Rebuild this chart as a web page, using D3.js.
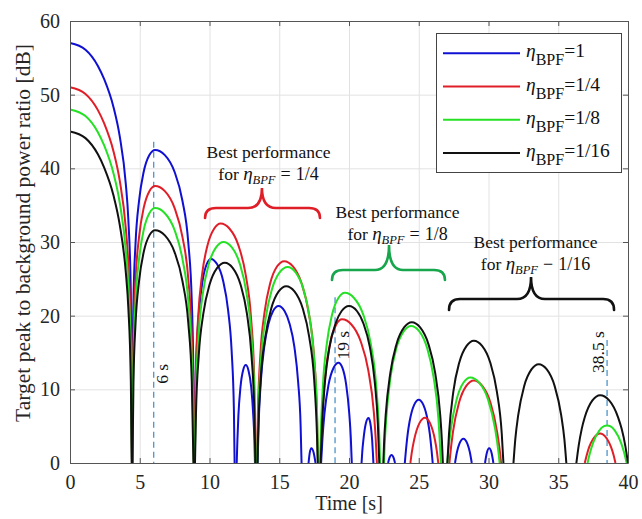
<!DOCTYPE html>
<html>
<head>
<meta charset="utf-8">
<script src="https://cdn.jsdelivr.net/npm/d3@7"></script>
<style>
  body { margin: 0; background: #fff; }
  svg { display: block; }
</style>
</head>
<body>
<svg id="chart" width="642" height="519"></svg>
<script>
// Axis ticks
const xTicks = [0, 5, 10, 15, 20, 25, 30, 35, 40];
const yTicks = [0, 10, 20, 30, 40, 50, 60];

// Legend entries (filter ratio eta_BPF)
const seriesLabels = ["1", "1/4", "1/8", "1/16"];

// Peak-to-background ratio [dB] vs time [s]; each inner array is one visible lobe
const lobesEta1 = [
  [[0,57],[1.11,56.1],[2.0,53.9],[2.45,52.1],[3.12,48.3],[3.56,44.4],[4.0,37.9],[4.18,33.1],[4.36,23.2],[4.44,0]],
  [[4.46,0],[4.48,12.4],[4.55,22.0],[4.70,29.9],[4.95,35.6],[5.28,39.5],[5.69,41.8],[6.1,42.5],[6.8,41.8],[7.5,39.5],[8.06,35.6],[8.48,29.9],[8.73,22.0],[8.84,12.4],[8.89,0]],
  [[8.93,0],[8.97,7.2],[9.08,15.1],[9.26,20.8],[9.5,24.7],[9.8,27.0],[10.1,27.7],[10.54,27.0],[10.98,24.7],[11.33,20.8],[11.59,15.1],[11.75,7.2],[11.80,0]],
  [[11.95,0],[12.0,3.1],[12.07,6.4],[12.22,10.3],[12.41,12.6],[12.6,13.3],[12.79,12.6],[12.99,10.3],[13.14,6.4],[13.22,3.1],[13.26,0]],
  [[13.45,0],[13.52,5.2],[13.68,11.1],[13.92,15.7],[14.23,18.9],[14.55,20.6],[14.95,21.3],[15.39,20.6],[15.74,18.9],[16.09,15.7],[16.35,11.1],[16.53,5.2],[16.6,0]],
  [[17.1,0],[17.18,1.3],[17.3,2.0],[17.48,1.3],[17.6,0]],
  [[18.0,0],[18.10,3.4],[18.24,6.7],[18.53,10.6],[18.89,12.9],[19.25,13.6],[19.53,12.9],[19.8,10.6],[20.02,6.7],[20.13,3.4],[20.2,0]],
  [[20.9,0],[20.95,1.5],[21.03,3.1],[21.21,5.4],[21.4,6.1],[21.53,5.4],[21.66,3.1],[21.71,1.5],[21.75,0]],
  [[22.8,0],[22.9,0.7],[23.05,1.1],[23.2,0.7],[23.3,0]],
  [[24.0,0],[24.08,1.7],[24.21,4.0],[24.34,5.6],[24.67,7.9],[25.0,8.6],[25.33,7.9],[25.66,5.6],[25.79,4.0],[25.92,1.7],[26.0,0]],
  [[27.6,0],[27.74,1.5],[27.91,2.6],[28.2,3.3],[28.49,2.6],[28.66,1.5],[28.8,0]],
  [[29.75,0],[29.87,1.3],[30.05,2.0],[30.23,1.3],[30.35,0]]
];
const lobesEta4 = [
  [[0,51],[1.11,50.1],[2.0,47.9],[2.45,46.1],[3.12,42.3],[3.56,38.4],[4.0,31.9],[4.18,27.1],[4.36,17.2],[4.44,0]],
  [[4.46,0],[4.48,7.5],[4.55,17.1],[4.70,25.0],[4.95,30.7],[5.28,34.6],[5.69,36.9],[6.1,37.6],[6.8,36.9],[7.5,34.6],[8.06,30.7],[8.48,25.0],[8.73,17.1],[8.84,7.5],[8.88,0]],
  [[8.92,0],[9.01,12.0],[9.19,19.9],[9.47,25.6],[9.85,29.5],[10.33,31.8],[10.8,32.5],[11.44,31.8],[12.08,29.5],[12.59,25.6],[12.97,19.9],[13.20,12.0],[13.31,0]],
  [[13.40,0],[13.47,6.9],[13.65,14.8],[13.95,20.5],[14.35,24.4],[14.85,26.7],[15.35,27.4],[15.98,26.7],[16.6,24.4],[17.1,20.5],[17.48,14.8],[17.70,6.9],[17.78,0]],
  [[17.95,0],[18.01,3.4],[18.09,6.9],[18.34,12.6],[18.67,16.5],[19.09,18.8],[19.5,19.5],[20.17,18.8],[20.84,16.5],[21.38,12.6],[21.78,6.9],[21.91,3.4],[22.0,0]],
  [[24.4,0],[24.51,1.55],[24.67,3.15],[25.06,5.45],[25.45,6.15],[25.80,5.45],[26.16,3.15],[26.30,1.55],[26.4,0]],
  [[27.2,0],[27.25,1.0],[27.46,4.3],[27.89,8.2],[28.42,10.5],[28.95,11.2],[29.54,10.5],[30.14,8.2],[30.61,4.3],[30.85,1.0],[30.9,0]],
  [[36.9,0],[37.03,1.0],[37.22,2.2],[37.51,3.3],[37.8,3.9],[38.0,4.0],[38.2,3.9],[38.49,3.3],[38.78,2.2],[38.98,1.0],[39.1,0]]
];
const lobesEta8 = [
  [[0,48],[1.11,47.1],[2.0,44.9],[2.45,43.1],[3.12,39.3],[3.56,35.4],[4.0,28.9],[4.18,24.1],[4.36,14.2],[4.44,0]],
  [[4.47,0],[4.48,4.5],[4.55,14.1],[4.70,22.0],[4.95,27.7],[5.28,31.6],[5.69,33.9],[6.1,34.6],[6.8,33.9],[7.5,31.6],[8.06,27.7],[8.48,22.0],[8.73,14.1],[8.84,4.5],[8.87,0]],
  [[8.94,0],[9.03,9.5],[9.22,17.4],[9.53,23.1],[9.95,27.0],[10.48,29.3],[11.0,30.0],[11.59,29.3],[12.18,27.0],[12.65,23.1],[13.0,17.4],[13.21,9.5],[13.30,0]],
  [[13.42,0],[13.49,6.1],[13.69,14.0],[14.03,19.7],[14.48,23.6],[15.04,25.9],[15.6,26.6],[16.16,25.9],[16.73,23.6],[17.18,19.7],[17.51,14.0],[17.72,6.1],[17.78,0]],
  [[17.93,0],[17.96,2.6],[18.13,10.5],[18.41,16.2],[18.78,20.1],[19.24,22.4],[19.7,23.1],[20.36,22.4],[21.03,20.1],[21.56,16.2],[21.95,10.5],[22.19,2.6],[22.23,0]],
  [[22.51,0],[22.56,2.5],[22.67,6.0],[22.98,11.7],[23.4,15.6],[23.93,17.9],[24.45,18.6],[25.03,17.9],[25.6,15.6],[26.06,11.7],[26.41,6.0],[26.52,2.5],[26.58,0]],
  [[27.05,0],[27.11,1.4],[27.31,4.7],[27.71,8.6],[28.2,10.9],[28.7,11.6],[29.33,10.9],[29.97,8.6],[30.47,4.7],[30.72,1.4],[30.8,0]],
  [[37.1,0],[37.27,1.35],[37.49,2.7],[37.94,4.4],[38.28,5.0],[38.5,5.1],[38.72,5.0],[39.06,4.4],[39.51,2.7],[39.73,1.35],[39.9,0]]
];
const lobesEta16 = [
  [[0,45],[1.11,44.1],[2.0,41.9],[2.45,40.1],[3.12,36.3],[3.56,32.4],[4.0,25.9],[4.18,21.1],[4.36,11.2],[4.43,0]],
  [[4.48,0],[4.55,11.1],[4.70,19.0],[4.95,24.7],[5.28,28.6],[5.69,30.9],[6.1,31.6],[6.8,30.9],[7.5,28.6],[8.06,24.7],[8.48,19.0],[8.73,11.1],[8.85,0]],
  [[8.96,0],[9.03,6.7],[9.23,14.6],[9.56,20.3],[10.0,24.2],[10.55,26.5],[11.1,27.2],[11.66,26.5],[12.23,24.2],[12.68,20.3],[13.01,14.6],[13.22,6.7],[13.29,0]],
  [[13.44,0],[13.48,3.5],[13.67,11.4],[14.0,17.1],[14.43,21.0],[14.96,23.3],[15.5,24.0],[16.09,23.3],[16.68,21.0],[17.15,17.1],[17.50,11.4],[17.71,3.5],[17.76,0]],
  [[17.97,0],[18.07,5.2],[18.28,11.1],[18.60,15.7],[19.03,18.9],[19.46,20.6],[20.0,21.3],[20.58,20.6],[21.04,18.9],[21.5,15.7],[21.84,11.1],[22.07,5.2],[22.17,0]],
  [[22.46,0],[22.52,3.0],[22.63,6.5],[22.96,12.2],[23.4,16.1],[23.95,18.4],[24.5,19.1],[25.1,18.4],[25.7,16.1],[26.18,12.2],[26.54,6.5],[26.66,3.0],[26.73,0]],
  [[27.05,0],[27.17,4.0],[27.48,9.7],[27.9,13.6],[28.43,15.9],[28.95,16.6],[29.54,15.9],[30.13,13.6],[30.6,9.7],[30.95,4.0],[31.07,0]],
  [[31.79,0],[31.92,3.2],[32.13,6.5],[32.55,10.4],[33.08,12.7],[33.6,13.4],[34.18,12.7],[34.75,10.4],[35.21,6.5],[35.44,3.2],[35.58,0]],
  [[36.3,0],[36.46,2.3],[36.68,4.6],[36.9,6.2],[37.45,8.5],[38.0,9.2],[38.65,8.5],[39.29,6.2],[39.55,4.6],[39.81,2.3],[40.0,0]]
];

// Vertical time markers: time [s], top of the dashed line [dB], label
const markerTimes = [6, 19, 38.5];
const markerTops = [43.6, 22.5, 16.7];
const markerLabels = ["6 s", "19 s", "38.5 s"];

// "Best performance" callouts: which filter ratio, braces [left, right, tip] in s,
// brace levels [end, bar, tip] in dB, text anchor [s, dB]
const calloutRatios = ["1/4", "1/8", "1/16"];
const calloutRelations = ["=", "=", "\u2212"];
const braceSpans = [[9.68, 17.92, 13.76], [18.78, 26.88, 22.87], [27.17, 39.0, 33.05]];
const braceLevels = [[33.26, 34.61, 37.33], [24.84, 26.2, 29.59], [20.77, 22.26, 25.25]];
const calloutAnchors = [[14.23, 41.4], [23.48, 33.26], [33.37, 29.18]];

// ---- drawing ----
const svg = d3.select("#chart");
const X0 = 70, X1 = 628, Y0 = 463, Y1 = 21;
const x = d3.scaleLinear().domain([0, 40]).range([X0, X1]);
const y = d3.scaleLinear().domain([0, 60]).range([Y0, Y1]);
const serif = "'Liberation Serif', 'Times New Roman', serif";

const lineColors = ["#1010d2", "#e01e28", "#25e025", "#111111"];
const braceColors = ["#e01e28", "#17a64c", "#111111"];
const axisColor = "#555555";

svg.append("rect").attr("x", X0).attr("y", Y1).attr("width", X1 - X0).attr("height", Y0 - Y1).attr("fill", "#fff");

// grid
const grid = svg.append("g").attr("stroke", "#e2e2e2").attr("stroke-width", 1);
grid.selectAll("line.gx").data(xTicks.slice(1, -1)).join("line")
  .attr("x1", d => x(d) + 0.5).attr("x2", d => x(d) + 0.5).attr("y1", Y1).attr("y2", Y0);
grid.selectAll("line.gy").data(yTicks.slice(1, -1)).join("line")
  .attr("y1", d => y(d) + 0.5).attr("y2", d => y(d) + 0.5).attr("x1", X0).attr("x2", X1);

// clip region
svg.append("clipPath").attr("id", "plotArea").append("rect")
  .attr("x", X0).attr("y", Y1 - 1).attr("width", X1 - X0).attr("height", Y0 - Y1 + 1);

// dashed markers
const markers = svg.append("g");
markerTimes.forEach((t, i) => {
  markers.append("line")
    .attr("x1", x(t)).attr("x2", x(t)).attr("y1", y(markerTops[i])).attr("y2", y(0))
    .attr("stroke", "#4d94cc").attr("stroke-width", 1.3).attr("stroke-dasharray", "6,4");
});

// curves
const line = d3.line().x(d => x(d[0])).y(d => y(d[1])).curve(d3.curveMonotoneX);
const curves = svg.append("g").attr("clip-path", "url(#plotArea)");
[lobesEta1, lobesEta4, lobesEta8, lobesEta16].forEach((lobes, i) => {
  curves.selectAll(null).data(lobes).join("path")
    .attr("d", line).attr("fill", "none")
    .attr("stroke", lineColors[i]).attr("stroke-width", 2)
    .attr("stroke-linejoin", "round");
});

// axes (box with inward ticks)
function styleAxis(g) {
  g.select(".domain").attr("stroke", axisColor).attr("stroke-width", 1);
  g.selectAll(".tick line").attr("stroke", axisColor);
  g.selectAll(".tick text").attr("fill", "#262626").attr("font-family", serif).attr("font-size", 20);
  g.attr("font-family", null).attr("font-size", null);
}
svg.append("g").attr("transform", `translate(0,${Y0})`)
  .call(d3.axisBottom(x).tickValues(xTicks).tickSizeInner(-5).tickSizeOuter(0).tickPadding(12).tickFormat(d3.format("d")))
  .call(styleAxis);
svg.append("g").attr("transform", `translate(0,${Y1})`)
  .call(d3.axisTop(x).tickValues(xTicks).tickSizeInner(-5).tickSizeOuter(0).tickFormat(""))
  .call(styleAxis);
svg.append("g").attr("transform", `translate(${X0},0)`)
  .call(d3.axisLeft(y).tickValues(yTicks).tickSizeInner(-5).tickSizeOuter(0).tickPadding(10).tickFormat(d3.format("d")))
  .call(styleAxis);
svg.append("g").attr("transform", `translate(${X1},0)`)
  .call(d3.axisRight(y).tickValues(yTicks).tickSizeInner(-5).tickSizeOuter(0).tickFormat(""))
  .call(styleAxis);

// axis titles
svg.append("text").attr("x", (X0 + X1) / 2).attr("y", 510).attr("text-anchor", "middle")
  .attr("font-family", serif).attr("font-size", 20).attr("fill", "#262626").text("Time [s]");
svg.append("text").attr("transform", "translate(30,233) rotate(-90)").attr("text-anchor", "middle")
  .attr("font-family", serif).attr("font-size", 21.5).attr("fill", "#262626")
  .text("Target peak to background power ratio [dB]");

// marker labels
markerTimes.forEach((t, i) => {
  const side = i === 2 ? -3 : 14;
  svg.append("text")
    .attr("transform", `translate(${x(t) + side},${y(markerTops[i]) + (i === 0 ? 232 : i === 1 ? 48 : 12)}) rotate(-90)`)
    .attr("text-anchor", "middle").attr("font-family", serif).attr("font-size", 17.5).attr("fill", "#111")
    .text(markerLabels[i]);
});

// braces
braceSpans.forEach((s, i) => {
  const [a, b, c] = s.map(x);
  const [ye, yh, yt] = braceLevels[i].map(y);
  const r = 11, r2 = 14;
  const p = d3.path();
  p.moveTo(a, ye);
  p.quadraticCurveTo(a, yh, a + r, yh);
  p.lineTo(c - r2, yh);
  p.quadraticCurveTo(c, yh, c, yt);
  p.quadraticCurveTo(c, yh, c + r2, yh);
  p.lineTo(b - r, yh);
  p.quadraticCurveTo(b, yh, b, ye);
  svg.append("path").attr("d", p.toString()).attr("fill", "none")
    .attr("stroke", braceColors[i]).attr("stroke-width", 2.6).attr("stroke-linecap", "round");
});

// callout text
calloutAnchors.forEach((a, i) => {
  const cx = x(a[0]), by = y(a[1]);
  svg.append("text").attr("x", cx).attr("y", by).attr("text-anchor", "middle")
    .attr("font-family", serif).attr("font-size", 17.5).attr("fill", "#111").text("Best performance");
  const t2 = svg.append("text").attr("x", cx).attr("y", by + 22).attr("text-anchor", "middle")
    .attr("font-family", serif).attr("font-size", 17.5).attr("fill", "#111");
  t2.append("tspan").text("for ");
  t2.append("tspan").attr("font-style", "italic").attr("font-size", 19).text("\u03b7");
  t2.append("tspan").attr("font-style", "italic").attr("font-size", 12.5).attr("dy", 4).text("BPF");
  t2.append("tspan").attr("dy", -4).attr("dx", 5).attr("font-size", 18).text(calloutRelations[i]);
  t2.append("tspan").attr("dx", 5).attr("font-size", 18).text(calloutRatios[i]);
});

// legend
const lg = svg.append("g");
lg.append("rect").attr("x", 436.5).attr("y", 33.5).attr("width", 185).attr("height", 139)
  .attr("fill", "#fff").attr("stroke", "#444").attr("stroke-width", 1);
seriesLabels.forEach((lab, i) => {
  const ly = 53.3 + i * 33.2;
  lg.append("line").attr("x1", 443).attr("x2", 520).attr("y1", ly).attr("y2", ly)
    .attr("stroke", lineColors[i]).attr("stroke-width", 2);
  const t = lg.append("text").attr("x", 526).attr("y", ly + 4)
    .attr("font-family", serif).attr("font-size", 19.5).attr("fill", "#111");
  t.append("tspan").attr("font-style", "italic").text("\u03b7");
  t.append("tspan").attr("font-size", 16).attr("dy", 8).text("BPF");
  t.append("tspan").attr("dy", -8).text("=" + lab);
});
</script>
</body>
</html>
